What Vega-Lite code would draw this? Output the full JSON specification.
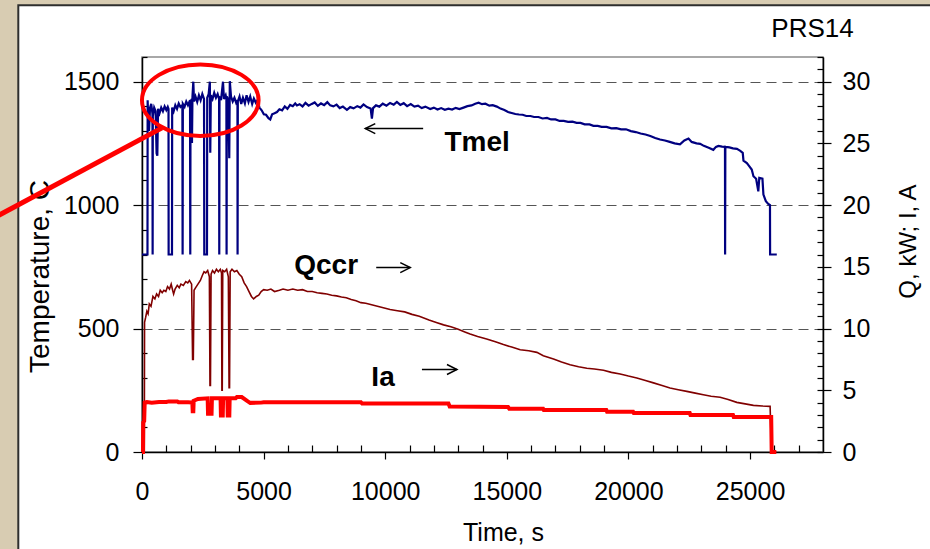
{
"$schema": "https://vega.github.io/schema/vega-lite/v6.json",
"width": 681, "height": 395,
"autosize": {"type": "none"},
"padding": {"left": 142, "top": 57, "right": 107, "bottom": 97},
"background": "#ffffff",
"config": {
  "font": "Liberation Sans",
  "view": {"stroke": "#8c8c8c", "strokeWidth": 1.5},
  "axis": {"labelFont": "Liberation Sans", "titleFont": "Liberation Sans", "labelColor": "#000000", "titleColor": "#000000", "titleFontWeight": "normal", "domainColor": "#000000", "tickColor": "#000000", "domainWidth": 1.5, "tickWidth": 1.2, "labelFontSize": 25, "titleFontSize": 25}
},
"datasets": {
  "deco": [{"x1": -6500, "x2": -5086, "y1": -700, "y2": 2200}, {"x1": -6500, "x2": 33000, "y1": 1810, "y2": 2200}],
  "frame": [{"x1": -5086, "x2": 33000, "y1": -700, "y2": 1810}],
  "dummy": [{"t": 0, "v": 0}],
  "tmel": [
{"t":0,"v":800},{"t":225,"v":800},{"t":232,"v":1425},{"t":260,"v":1330},{"t":290,"v":1300},{"t":330,"v":1395},{"t":380,"v":1410},{"t":430,"v":1370},{"t":437,"v":800},{"t":445,"v":1360},{"t":500,"v":1395},{"t":560,"v":1380},{"t":600,"v":1210},{"t":630,"v":1200},{"t":660,"v":1390},{"t":720,"v":1372},{"t":790,"v":1395},{"t":860,"v":1380},{"t":930,"v":1400},{"t":1000,"v":1385},{"t":1060,"v":1398},{"t":1090,"v":1390},{"t":1095,"v":800},{"t":1233,"v":800},{"t":1240,"v":1395},{"t":1300,"v":1380},{"t":1370,"v":1405},{"t":1440,"v":1390},{"t":1510,"v":1412},{"t":1580,"v":1398},{"t":1660,"v":1405},{"t":1670,"v":800},{"t":1680,"v":1410},{"t":1750,"v":1398},{"t":1820,"v":1420},{"t":1890,"v":1405},{"t":1975,"v":1425},{"t":1985,"v":800},{"t":1995,"v":1415},{"t":2040,"v":1430},{"t":2055,"v":1252},{"t":2075,"v":1440},{"t":2110,"v":1500},{"t":2140,"v":1420},{"t":2200,"v":1440},{"t":2270,"v":1418},{"t":2340,"v":1445},{"t":2410,"v":1425},{"t":2480,"v":1450},{"t":2550,"v":1430},{"t":2561,"v":800},{"t":2672,"v":800},{"t":2682,"v":1435},{"t":2740,"v":1450},{"t":2790,"v":1500},{"t":2807,"v":1212},{"t":2830,"v":1445},{"t":2900,"v":1430},{"t":2970,"v":1455},{"t":3040,"v":1435},{"t":3110,"v":1450},{"t":3170,"v":1430},{"t":3177,"v":800},{"t":3187,"v":1440},{"t":3250,"v":1425},{"t":3330,"v":1500},{"t":3370,"v":1430},{"t":3440,"v":1445},{"t":3470,"v":1430},{"t":3478,"v":800},{"t":3488,"v":1440},{"t":3550,"v":1425},{"t":3588,"v":1190},{"t":3610,"v":1502},{"t":3660,"v":1440},{"t":3730,"v":1420},{"t":3800,"v":1435},{"t":3870,"v":1415},{"t":3925,"v":1425},{"t":3930,"v":800},{"t":3940,"v":1420},{"t":4010,"v":1440},{"t":4080,"v":1410},{"t":4150,"v":1435},{"t":4230,"v":1412},{"t":4300,"v":1445},{"t":4380,"v":1418},{"t":4450,"v":1440},{"t":4530,"v":1410},{"t":4600,"v":1432},{"t":4680,"v":1415},{"t":4750,"v":1425},{"t":4830,"v":1395},{"t":4920,"v":1384},{"t":5010,"v":1368},{"t":5100,"v":1366},{"t":5200,"v":1352},{"t":5273,"v":1347},{"t":5350,"v":1368},{"t":5450,"v":1372},{"t":5549,"v":1377},{"t":5650,"v":1388},{"t":5760,"v":1384},{"t":5870,"v":1400},{"t":5980,"v":1390},{"t":6090,"v":1406},{"t":6200,"v":1401},{"t":6300,"v":1412},{"t":6371,"v":1404},{"t":6480,"v":1409},{"t":6600,"v":1400},{"t":6720,"v":1414},{"t":6850,"v":1403},{"t":6980,"v":1410},{"t":7100,"v":1416},{"t":7230,"v":1402},{"t":7360,"v":1412},{"t":7490,"v":1405},{"t":7620,"v":1417},{"t":7740,"v":1404},{"t":7870,"v":1400},{"t":8000,"v":1407},{"t":8130,"v":1393},{"t":8260,"v":1399},{"t":8426,"v":1386},{"t":8560,"v":1397},{"t":8700,"v":1392},{"t":8850,"v":1401},{"t":8980,"v":1395},{"t":9108,"v":1408},{"t":9250,"v":1397},{"t":9400,"v":1391},{"t":9453,"v":1350},{"t":9500,"v":1393},{"t":9620,"v":1404},{"t":9760,"v":1399},{"t":9900,"v":1411},{"t":10050,"v":1403},{"t":10200,"v":1414},{"t":10350,"v":1407},{"t":10480,"v":1418},{"t":10620,"v":1406},{"t":10760,"v":1413},{"t":10900,"v":1401},{"t":11050,"v":1409},{"t":11200,"v":1399},{"t":11350,"v":1403},{"t":11500,"v":1393},{"t":11650,"v":1399},{"t":11850,"v":1389},{"t":12000,"v":1395},{"t":12150,"v":1387},{"t":12300,"v":1393},{"t":12450,"v":1386},{"t":12600,"v":1391},{"t":12750,"v":1387},{"t":12900,"v":1394},{"t":13050,"v":1389},{"t":13220,"v":1395},{"t":13380,"v":1401},{"t":13550,"v":1404},{"t":13700,"v":1411},{"t":13840,"v":1415},{"t":13980,"v":1409},{"t":14120,"v":1411},{"t":14280,"v":1403},{"t":14420,"v":1405},{"t":14590,"v":1399},{"t":14740,"v":1391},{"t":14900,"v":1385},{"t":15050,"v":1377},{"t":15200,"v":1373},{"t":15350,"v":1369},{"t":15500,"v":1367},{"t":15650,"v":1366},{"t":15800,"v":1361},{"t":15970,"v":1361},{"t":16120,"v":1357},{"t":16300,"v":1357},{"t":16470,"v":1351},{"t":16650,"v":1353},{"t":16820,"v":1347},{"t":17000,"v":1347},{"t":17170,"v":1341},{"t":17340,"v":1341},{"t":17520,"v":1337},{"t":17700,"v":1338},{"t":17870,"v":1333},{"t":18030,"v":1333},{"t":18200,"v":1327},{"t":18400,"v":1327},{"t":18560,"v":1321},{"t":18740,"v":1321},{"t":18900,"v":1317},{"t":19100,"v":1317},{"t":19300,"v":1311},{"t":19500,"v":1312},{"t":19700,"v":1307},{"t":19900,"v":1307},{"t":20100,"v":1300},{"t":20300,"v":1296},{"t":20500,"v":1290},{"t":20700,"v":1286},{"t":20900,"v":1280},{"t":21100,"v":1272},{"t":21300,"v":1266},{"t":21500,"v":1262},{"t":21700,"v":1256},{"t":21900,"v":1250},{"t":22120,"v":1246},{"t":22300,"v":1262},{"t":22470,"v":1270},{"t":22600,"v":1256},{"t":22800,"v":1250},{"t":22950,"v":1248},{"t":23100,"v":1240},{"t":23300,"v":1232},{"t":23490,"v":1224},{"t":23600,"v":1236},{"t":23700,"v":1240},{"t":23850,"v":1237},{"t":23970,"v":1236},{"t":23975,"v":800},{"t":23985,"v":1236},{"t":24150,"v":1234},{"t":24300,"v":1230},{"t":24460,"v":1228},{"t":24600,"v":1220},{"t":24700,"v":1212},{"t":24730,"v":1180},{"t":24870,"v":1170},{"t":24950,"v":1160},{"t":25070,"v":1144},{"t":25140,"v":1117},{"t":25250,"v":1107},{"t":25340,"v":1056},{"t":25380,"v":1110},{"t":25510,"v":1107},{"t":25550,"v":1043},{"t":25650,"v":1016},{"t":25750,"v":1005},{"t":25820,"v":1000},{"t":25825,"v":800},{"t":26100,"v":800}
  ],
  "qccr": [
{"t":0,"v":0},{"t":95,"v":0},{"t":105,"v":10.5},{"t":150,"v":10.9},{"t":200,"v":11.4},{"t":250,"v":11.2},{"t":300,"v":12.0},{"t":370,"v":11.8},{"t":450,"v":12.6},{"t":530,"v":12.4},{"t":600,"v":12.8},{"t":680,"v":12.6},{"t":750,"v":13.1},{"t":830,"v":12.9},{"t":900,"v":13.1},{"t":980,"v":13.0},{"t":1050,"v":13.4},{"t":1130,"v":13.2},{"t":1200,"v":13.6},{"t":1260,"v":13.1},{"t":1300,"v":12.8},{"t":1360,"v":13.2},{"t":1450,"v":13.5},{"t":1530,"v":13.3},{"t":1600,"v":13.6},{"t":1700,"v":13.5},{"t":1800,"v":13.8},{"t":1880,"v":13.7},{"t":1950,"v":13.9},{"t":2040,"v":13.6},{"t":2080,"v":7.5},{"t":2110,"v":7.5},{"t":2140,"v":13.1},{"t":2200,"v":13.3},{"t":2300,"v":13.6},{"t":2400,"v":13.9},{"t":2480,"v":14.3},{"t":2550,"v":14.6},{"t":2620,"v":14.5},{"t":2700,"v":14.7},{"t":2770,"v":14.2},{"t":2795,"v":5.4},{"t":2815,"v":5.4},{"t":2840,"v":14.4},{"t":2900,"v":14.7},{"t":2980,"v":14.5},{"t":3060,"v":14.8},{"t":3140,"v":14.6},{"t":3220,"v":14.8},{"t":3270,"v":14.5},{"t":3285,"v":5.0},{"t":3300,"v":5.0},{"t":3320,"v":14.7},{"t":3400,"v":14.6},{"t":3480,"v":14.8},{"t":3550,"v":14.2},{"t":3580,"v":5.2},{"t":3600,"v":5.2},{"t":3625,"v":14.6},{"t":3700,"v":14.8},{"t":3800,"v":14.6},{"t":3900,"v":14.7},{"t":4000,"v":14.4},{"t":4100,"v":14.2},{"t":4200,"v":13.7},{"t":4300,"v":13.4},{"t":4400,"v":13.0},{"t":4500,"v":12.6},{"t":4590,"v":12.4},{"t":4700,"v":12.6},{"t":4800,"v":12.7},{"t":4900,"v":13.0},{"t":5000,"v":13.15},{"t":5150,"v":13.1},{"t":5300,"v":13.2},{"t":5450,"v":13.0},{"t":5650,"v":13.1},{"t":5800,"v":13.2},{"t":6000,"v":13.1},{"t":6200,"v":13.2},{"t":6400,"v":13.1},{"t":6600,"v":13.15},{"t":6800,"v":13.0},{"t":7000,"v":13.0},{"t":7200,"v":12.9},{"t":7400,"v":12.85},{"t":7600,"v":12.8},{"t":7800,"v":12.7},{"t":8000,"v":12.65},{"t":8200,"v":12.55},{"t":8400,"v":12.5},{"t":8600,"v":12.35},{"t":8800,"v":12.25},{"t":9000,"v":12.1},{"t":9200,"v":12.05},{"t":9400,"v":11.95},{"t":9600,"v":11.85},{"t":9800,"v":11.75},{"t":10000,"v":11.65},{"t":10200,"v":11.55},{"t":10500,"v":11.45},{"t":10800,"v":11.35},{"t":11100,"v":11.15},{"t":11400,"v":11.0},{"t":11800,"v":10.7},{"t":12100,"v":10.5},{"t":12400,"v":10.3},{"t":12700,"v":10.15},{"t":13000,"v":9.95},{"t":13300,"v":9.7},{"t":13490,"v":9.55},{"t":13800,"v":9.35},{"t":14170,"v":9.16},{"t":14500,"v":8.95},{"t":14860,"v":8.7},{"t":15200,"v":8.5},{"t":15550,"v":8.29},{"t":15900,"v":8.2},{"t":16235,"v":8.07},{"t":16500,"v":7.8},{"t":16920,"v":7.54},{"t":17250,"v":7.3},{"t":17600,"v":7.07},{"t":17950,"v":6.9},{"t":18290,"v":6.78},{"t":18600,"v":6.72},{"t":18975,"v":6.62},{"t":19300,"v":6.45},{"t":19660,"v":6.32},{"t":20000,"v":6.15},{"t":20345,"v":6.0},{"t":20700,"v":5.8},{"t":21030,"v":5.6},{"t":21350,"v":5.4},{"t":21710,"v":5.19},{"t":22050,"v":5.05},{"t":22400,"v":4.91},{"t":22750,"v":4.77},{"t":23080,"v":4.64},{"t":23400,"v":4.52},{"t":23770,"v":4.43},{"t":24100,"v":4.25},{"t":24455,"v":4.02},{"t":24800,"v":3.9},{"t":25140,"v":3.78},{"t":25500,"v":3.73},{"t":25825,"v":3.7},{"t":25880,"v":0},{"t":26080,"v":0}
  ],
  "ia": [
{"t":0,"v":0},{"t":40,"v":0},{"t":50,"v":2.4},{"t":90,"v":2.5},{"t":110,"v":4.0},{"t":200,"v":4.05},{"t":400,"v":4.0},{"t":700,"v":4.05},{"t":1000,"v":4.05},{"t":1100,"v":4.1},{"t":1450,"v":4.1},{"t":1500,"v":4.03},{"t":1900,"v":4.03},{"t":2070,"v":4.0},{"t":2085,"v":3.3},{"t":2110,"v":3.3},{"t":2125,"v":4.15},{"t":2300,"v":4.3},{"t":2700,"v":4.35},{"t":2715,"v":3.1},{"t":2860,"v":3.1},{"t":2875,"v":4.35},{"t":3230,"v":4.35},{"t":3245,"v":2.95},{"t":3320,"v":2.95},{"t":3335,"v":4.35},{"t":3510,"v":4.35},{"t":3525,"v":2.95},{"t":3590,"v":2.95},{"t":3605,"v":4.35},{"t":3850,"v":4.35},{"t":3900,"v":4.45},{"t":4100,"v":4.45},{"t":4350,"v":4.1},{"t":4450,"v":3.98},{"t":4900,"v":4.0},{"t":5000,"v":4.03},{"t":9000,"v":4.03},{"t":9050,"v":3.92},{"t":12600,"v":3.92},{"t":12650,"v":3.68},{"t":15050,"v":3.65},{"t":15100,"v":3.51},{"t":16490,"v":3.51},{"t":16520,"v":3.4},{"t":19090,"v":3.4},{"t":19120,"v":3.27},{"t":20190,"v":3.27},{"t":20220,"v":3.16},{"t":22520,"v":3.16},{"t":22550,"v":3.0},{"t":24300,"v":3.0},{"t":24330,"v":2.84},{"t":25870,"v":2.84},{"t":25890,"v":0},{"t":26080,"v":0}
  ],
  "notes": [{"label": "Tmel", "t": 13780, "v": 1218}, {"label": "Qccr", "t": 7570, "v": 719}, {"label": "Ia", "t": 9910, "v": 266}],
  "stamp": [{"label": "PRS14", "t": 27570, "v": 1681}],
  "arrows": [{"x1": 9180, "x2": 11560, "y": 1310, "dir": "left", "tip": 9180}, {"x1": 9630, "x2": 11030, "y": 747, "dir": "right", "tip": 11030}, {"x1": 11510, "x2": 12950, "y": 334, "dir": "right", "tip": 12950}],
  "circle": [{"t": 2396, "v": 1425}],
  "pointer": [{"t1": 822, "v1": 1313, "t2": -6000, "v2": 953}]
},
"layer": [
  {
    "data": {"name": "dummy"}, "mark": {"type": "point", "opacity": 0},
    "encoding": {
      "x": {"field": "t", "type": "quantitative", "scale": {"domain": [0, 28000], "nice": false, "zero": false},
            "axis": {"orient": "bottom", "values": [0, 5000, 10000, 15000, 20000, 25000], "format": "d", "tickSize": 7, "labelPadding": 20, "labelFlush": false, "labelOverlap": false, "grid": false, "title": "Time, s", "titleFontSize": 25, "titleX": 361, "titleY": 88, "titleBaseline": "alphabetic", "titleAlign": "center"}},
      "y": {"field": "v", "type": "quantitative", "scale": {"domain": [0, 1600], "nice": false, "zero": false},
            "axis": {"orient": "left", "values": [0, 500, 1000, 1500], "format": "d", "tickSize": 9, "labelPadding": 14, "grid": true, "gridDash": [10, 6], "gridColor": "#555555", "gridWidth": 1, "title": "Temperature, C", "titleFontSize": 28, "titleAngle": -90, "titleX": -94, "titleY": 219, "titleBaseline": "alphabetic", "titleAlign": "center"}}}
  },
  {
    "data": {"name": "dummy"}, "mark": {"type": "point", "opacity": 0},
    "encoding": {
      "x": {"field": "t", "type": "quantitative", "scale": {"domain": [0, 28000], "nice": false, "zero": false}, "axis": null},
      "y": {"field": "v", "type": "quantitative", "scale": {"domain": [0, 32], "nice": false, "zero": false},
            "axis": {"orient": "right", "values": [0, 5, 10, 15, 20, 25, 30], "format": "d", "tickSize": 8, "labelPadding": 11, "grid": false, "title": "Q, kW; I, A", "titleFontSize": 24, "titleAngle": -90, "titleX": 92, "titleY": 184, "titleBaseline": "alphabetic", "titleAlign": "center"}}}
  },
  {
    "data": {"name": "dummy"}, "mark": {"type": "point", "opacity": 0},
    "encoding": {
      "x": {"field": "t", "type": "quantitative", "scale": {"domain": [0, 28000], "nice": false, "zero": false},
            "axis": {"orient": "bottom", "values": [1000, 2000, 3000, 4000, 6000, 7000, 8000, 9000, 11000, 12000, 13000, 14000, 16000, 17000, 18000, 19000, 21000, 22000, 23000, 24000, 26000, 27000], "labels": false, "domain": false, "grid": false, "tickSize": -7, "title": null}},
      "y": {"field": "v", "type": "quantitative", "scale": {"domain": [0, 1600], "nice": false, "zero": false},
            "axis": {"orient": "left", "values": [100, 200, 300, 400, 600, 700, 800, 900, 1100, 1200, 1300, 1400, 1600], "labels": false, "domain": false, "grid": false, "tickSize": -5, "title": null}}}
  },
  {
    "data": {"name": "dummy"}, "mark": {"type": "point", "opacity": 0},
    "encoding": {
      "x": {"field": "t", "type": "quantitative", "scale": {"domain": [0, 28000], "nice": false, "zero": false}, "axis": null},
      "y": {"field": "v", "type": "quantitative", "scale": {"domain": [0, 32], "nice": false, "zero": false},
            "axis": {"orient": "right", "values": [0, 1, 2, 3, 4, 5, 6, 7, 8, 9, 10, 11, 12, 13, 14, 15, 16, 17, 18, 19, 20, 21, 22, 23, 24, 25, 26, 27, 28, 29, 30, 31, 32], "labels": false, "domain": false, "grid": false, "tickSize": -6, "title": null}}}
  },
  {
    "layer": [
      {"data": {"name": "deco"}, "mark": {"type": "rect", "color": "#d8ccb2"},
       "encoding": {"x": {"field": "x1", "type": "quantitative", "scale": {"domain": [0, 28000], "nice": false, "zero": false}, "axis": null}, "x2": {"field": "x2"},
                    "y": {"field": "y1", "type": "quantitative", "scale": {"domain": [0, 1600], "nice": false, "zero": false}, "axis": null}, "y2": {"field": "y2"}}},
      {"data": {"name": "frame"}, "mark": {"type": "rect", "filled": false, "stroke": "#2e2e2e", "strokeWidth": 2},
       "encoding": {"x": {"field": "x1", "type": "quantitative", "scale": {"domain": [0, 28000], "nice": false, "zero": false}, "axis": null}, "x2": {"field": "x2"},
                    "y": {"field": "y1", "type": "quantitative", "scale": {"domain": [0, 1600], "nice": false, "zero": false}, "axis": null}, "y2": {"field": "y2"}}},
      {"data": {"name": "tmel"}, "mark": {"type": "line", "color": "#000080", "strokeWidth": 2.2},
       "encoding": {
         "x": {"field": "t", "type": "quantitative", "scale": {"domain": [0, 28000], "nice": false, "zero": false}, "axis": null},
         "y": {"field": "v", "type": "quantitative", "scale": {"domain": [0, 1600], "nice": false, "zero": false}, "axis": null}}},
      {"data": {"name": "notes"}, "mark": {"type": "text", "font": "Liberation Sans", "fontWeight": "bold", "fontSize": 28, "align": "center", "baseline": "alphabetic", "color": "#000000"},
       "encoding": {"x": {"field": "t", "type": "quantitative", "scale": {"domain": [0, 28000], "nice": false, "zero": false}, "axis": null},
                    "y": {"field": "v", "type": "quantitative", "scale": {"domain": [0, 1600], "nice": false, "zero": false}, "axis": null},
                    "text": {"field": "label"}}},
      {"data": {"name": "stamp"}, "mark": {"type": "text", "font": "Liberation Sans", "fontSize": 26, "align": "center", "baseline": "alphabetic", "color": "#000000"},
       "encoding": {"x": {"field": "t", "type": "quantitative", "scale": {"domain": [0, 28000], "nice": false, "zero": false}, "axis": null},
                    "y": {"field": "v", "type": "quantitative", "scale": {"domain": [0, 1600], "nice": false, "zero": false}, "axis": null},
                    "text": {"field": "label"}}},
      {"data": {"name": "arrows"}, "mark": {"type": "rule", "color": "#000000", "strokeWidth": 1.5},
       "encoding": {"x": {"field": "x1", "type": "quantitative", "scale": {"domain": [0, 28000], "nice": false, "zero": false}, "axis": null}, "x2": {"field": "x2"},
                    "y": {"field": "y", "type": "quantitative", "scale": {"domain": [0, 1600], "nice": false, "zero": false}, "axis": null}}},
      {"data": {"name": "arrows"}, "transform": [{"filter": "datum.dir === 'left'"}],
       "mark": {"type": "point", "shape": "M 1 -0.5 L 0 0 L 1 0.5", "filled": false, "color": "#000000", "strokeWidth": 1.5, "opacity": 1, "size": 400},
       "encoding": {"x": {"field": "tip", "type": "quantitative", "scale": {"domain": [0, 28000], "nice": false, "zero": false}, "axis": null},
                    "y": {"field": "y", "type": "quantitative", "scale": {"domain": [0, 1600], "nice": false, "zero": false}, "axis": null}}},
      {"data": {"name": "arrows"}, "transform": [{"filter": "datum.dir === 'right'"}],
       "mark": {"type": "point", "shape": "M -1 -0.5 L 0 0 L -1 0.5", "filled": false, "color": "#000000", "strokeWidth": 1.5, "opacity": 1, "size": 400},
       "encoding": {"x": {"field": "tip", "type": "quantitative", "scale": {"domain": [0, 28000], "nice": false, "zero": false}, "axis": null},
                    "y": {"field": "y", "type": "quantitative", "scale": {"domain": [0, 1600], "nice": false, "zero": false}, "axis": null}}},
      {"data": {"name": "circle"},
       "mark": {"type": "point", "shape": "M 1 0 C 1 0.339 0.5523 0.614 0 0.614 C -0.5523 0.614 -1 0.339 -1 0 C -1 -0.339 -0.5523 -0.614 0 -0.614 C 0.5523 -0.614 1 -0.339 1 0 Z", "filled": false, "color": "#ff0000", "strokeWidth": 4, "opacity": 1, "size": 13596},
       "encoding": {"x": {"field": "t", "type": "quantitative", "scale": {"domain": [0, 28000], "nice": false, "zero": false}, "axis": null},
                    "y": {"field": "v", "type": "quantitative", "scale": {"domain": [0, 1600], "nice": false, "zero": false}, "axis": null}}},
      {"data": {"name": "pointer"}, "mark": {"type": "rule", "color": "#ff0000", "strokeWidth": 5},
       "encoding": {"x": {"field": "t1", "type": "quantitative", "scale": {"domain": [0, 28000], "nice": false, "zero": false}, "axis": null}, "x2": {"field": "t2"},
                    "y": {"field": "v1", "type": "quantitative", "scale": {"domain": [0, 1600], "nice": false, "zero": false}, "axis": null}, "y2": {"field": "v2"}}}
    ]
  },
  {
    "layer": [
      {"data": {"name": "qccr"}, "mark": {"type": "line", "color": "#800000", "strokeWidth": 1.6},
       "encoding": {
         "x": {"field": "t", "type": "quantitative", "scale": {"domain": [0, 28000], "nice": false, "zero": false}, "axis": null},
         "y": {"field": "v", "type": "quantitative", "scale": {"domain": [0, 32], "nice": false, "zero": false}, "axis": null}}},
      {"data": {"name": "ia"}, "mark": {"type": "line", "color": "#ff0000", "strokeWidth": 4},
       "encoding": {
         "x": {"field": "t", "type": "quantitative", "scale": {"domain": [0, 28000], "nice": false, "zero": false}, "axis": null},
         "y": {"field": "v", "type": "quantitative", "scale": {"domain": [0, 32], "nice": false, "zero": false}, "axis": null}}}
    ]
  }
],
"resolve": {"scale": {"x": "independent", "y": "independent"}, "axis": {"x": "independent", "y": "independent"}}
}
